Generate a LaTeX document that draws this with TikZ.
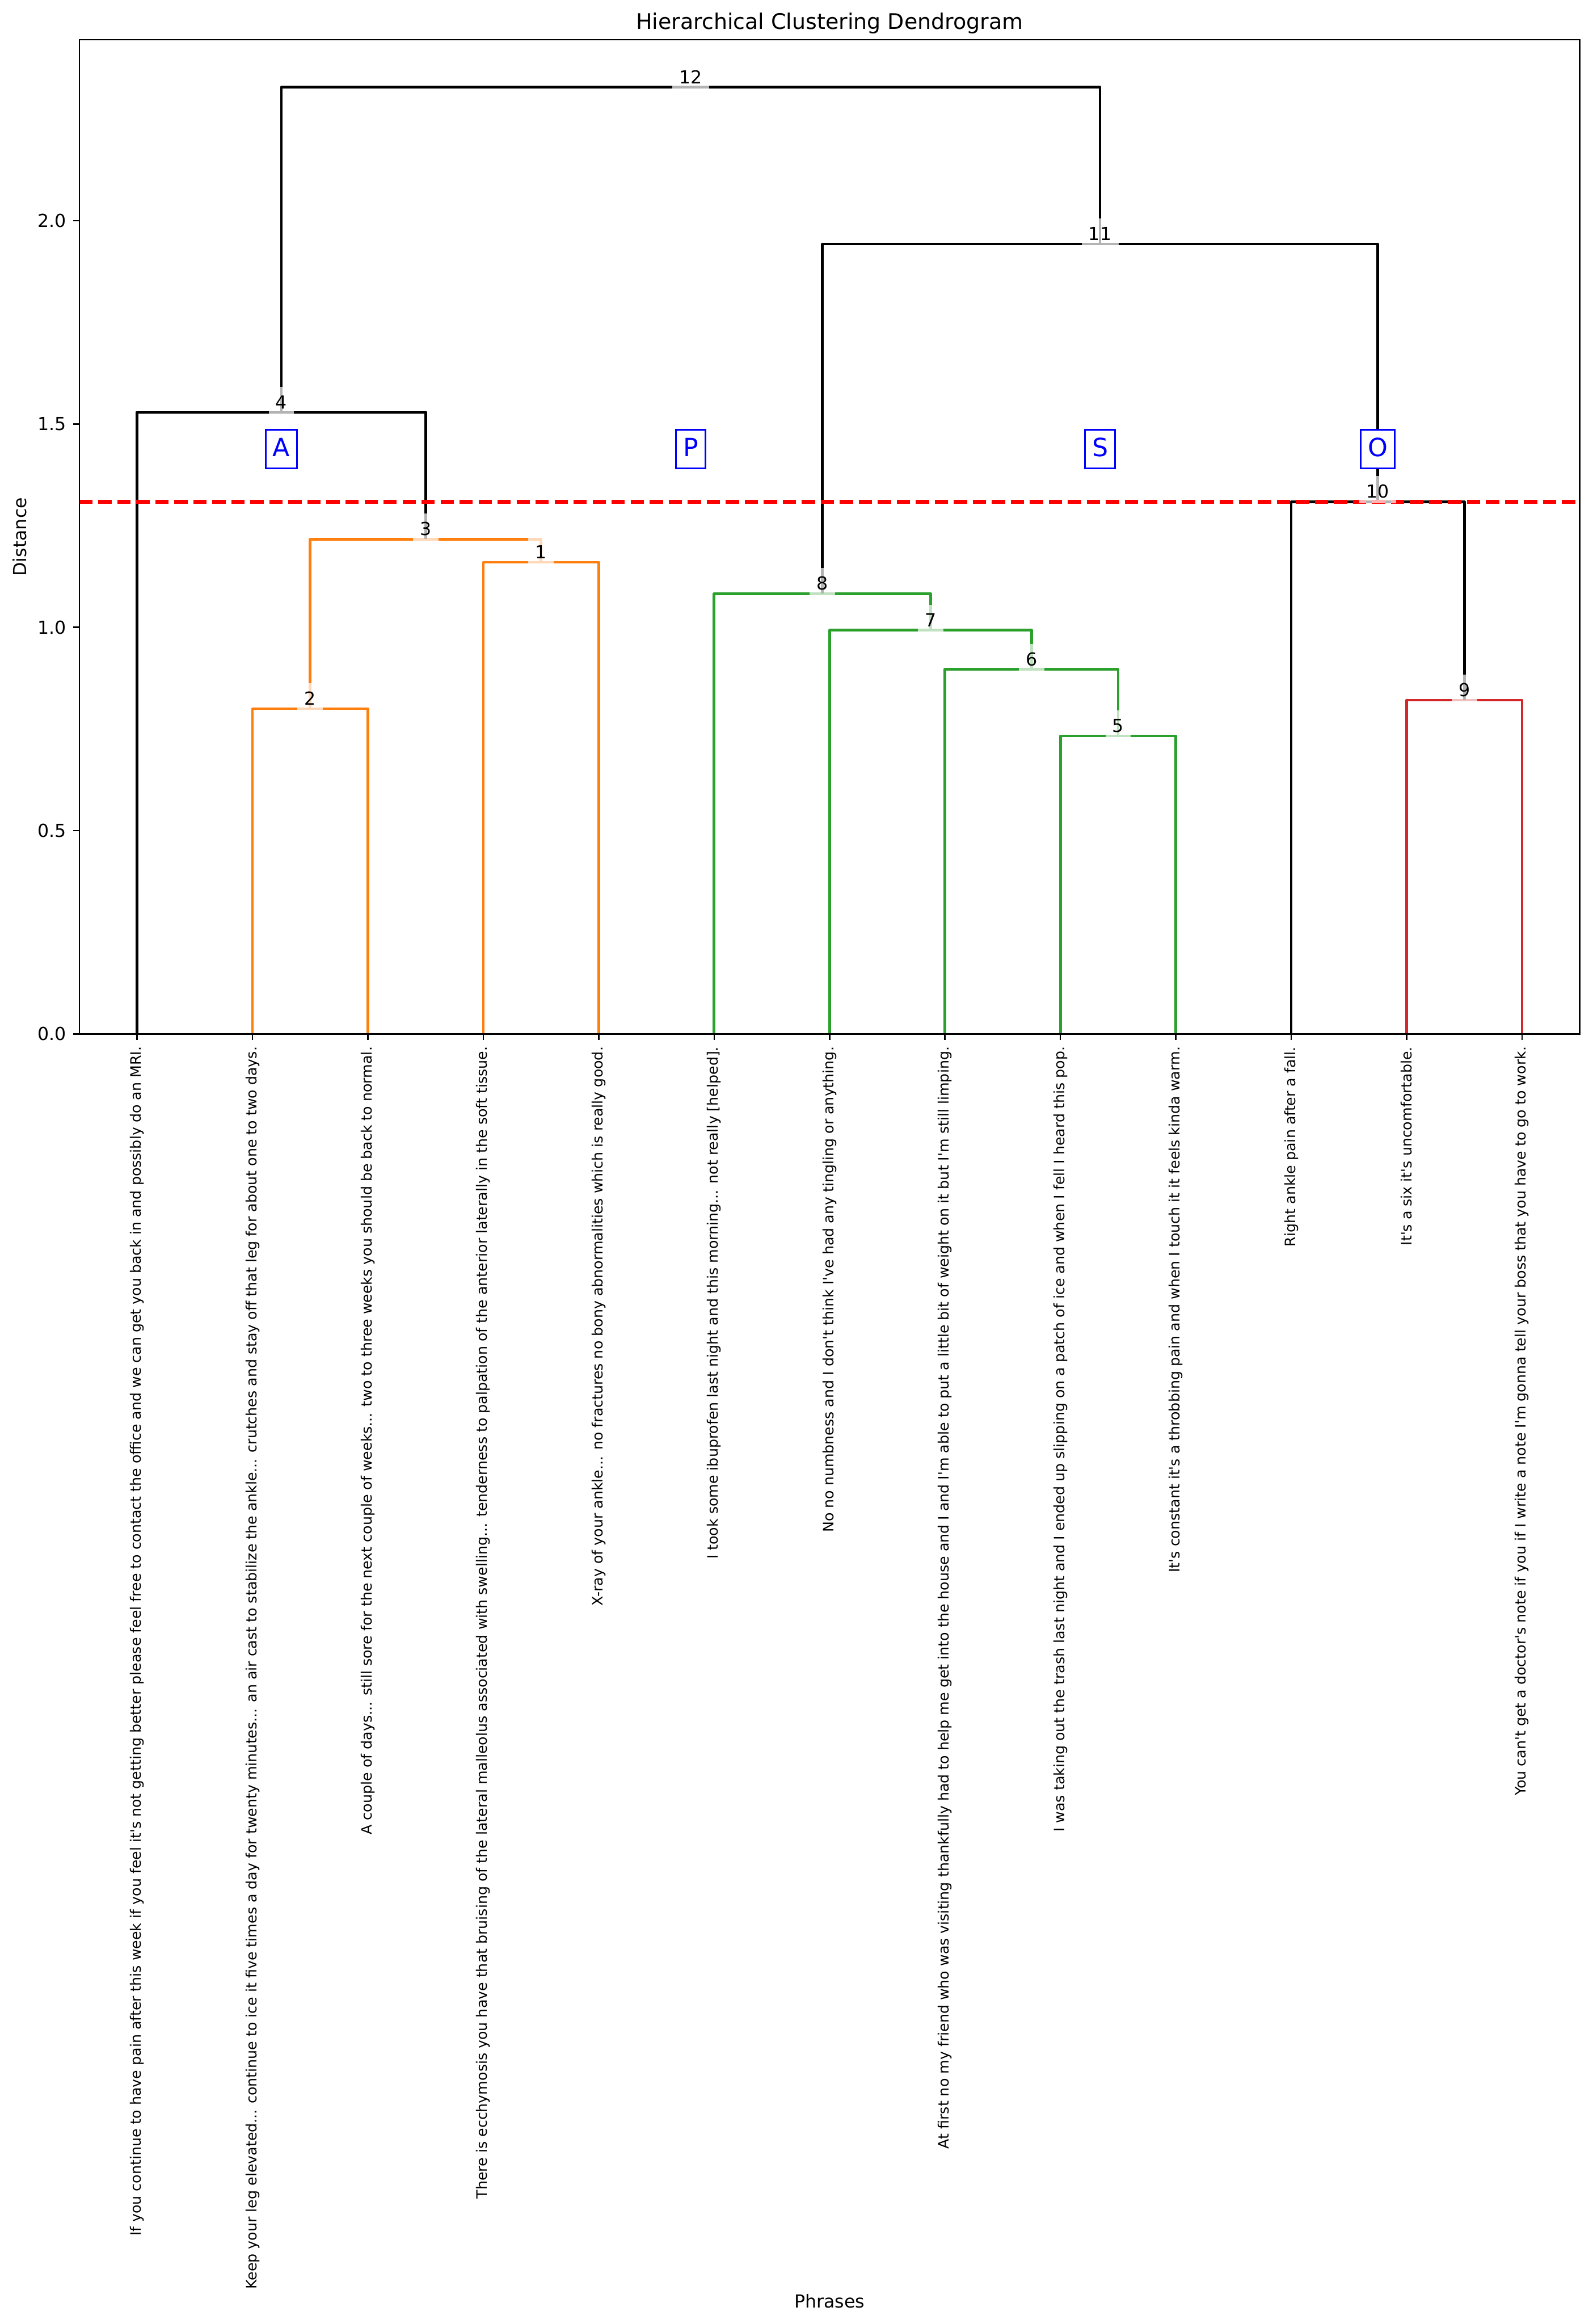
\documentclass[tikz,border=0pt]{standalone}
\usepackage{fontspec}
\setmainfont{DejaVu Sans}
\newfontfamily\dgfont{DejaVu Sans}
\definecolor{dgorange}{HTML}{FF7F0E}
\definecolor{dggreen}{HTML}{2CA02C}
\definecolor{dgred}{HTML}{D62728}
\definecolor{dgcut}{HTML}{FF0000}
\definecolor{dgblue}{HTML}{0000FF}
\tikzset{
  lnk/.style={line width=1.5pt, line join=round},
  spine/.style={line width=0.8pt},
  tck/.style={inner sep=0pt, font={\dgfont\fontsize{10}{12}\selectfont}},
  leaf/.style={rotate=90, anchor=east, inner sep=0pt, font={\dgfont\fontsize{8}{9.6}\selectfont}},
  num/.style={anchor=base, yshift=2pt, fill=white, fill opacity=0.7, text opacity=1, inner xsep=3.9pt, inner ysep=0pt, text height=12.2pt, text depth=3pt, font={\dgfont\fontsize{10}{12}\selectfont}},
  tag/.style={anchor=base, draw=dgblue, line width=1pt, fill=white, text=dgblue, inner xsep=3.9pt, inner ysep=0pt, text height=14.9pt, text depth=6.7pt, font={\dgfont\fontsize{14}{16.8}\selectfont}},
  cutline/.style={dgcut, line width=2pt, dash pattern=on 7.4pt off 3.2pt},
}
\begin{document}
\begin{tikzpicture}[x=6.436pt, y=226.7pt]
  \useasboundingbox (-44.26pt,-719.3pt) rectangle (843.98pt,576.5pt);
  \foreach \i in {1,...,13} \coordinate (leaf\i) at ({10*\i-5},0);
  \foreach \n/\x/\h in {1/40/1.160, 2/20/0.800, 3/30/1.217, 4/17.5/1.529, 5/90/0.733, 6/82.5/0.897, 7/73.75/0.993, 8/64.375/1.083, 9/120/0.821, 10/112.5/1.309, 11/88.4375/1.943, 12/52.96875/2.329}
    \coordinate (n\n) at (\x,\h);
  \draw[lnk, dgorange] (leaf4) |- (n1) -| (leaf5);
  \draw[lnk, dgorange] (leaf2) |- (n2) -| (leaf3);
  \draw[lnk, dgorange] (n2) |- (n3) -| (n1);
  \draw[lnk] (leaf1) |- (n4) -| (n3);
  \draw[lnk, dggreen] (leaf9) |- (n5) -| (leaf10);
  \draw[lnk, dggreen] (leaf8) |- (n6) -| (n5);
  \draw[lnk, dggreen] (leaf7) |- (n7) -| (n6);
  \draw[lnk, dggreen] (leaf6) |- (n8) -| (n7);
  \draw[lnk, dgred] (leaf12) |- (n9) -| (leaf13);
  \draw[lnk] (leaf11) |- (n10) -| (n9);
  \draw[lnk] (n8) |- (n11) -| (n10);
  \draw[lnk] (n4) |- (n12) -| (n11);
  \coordinate (cutL) at (0,1.3085);
  \coordinate (cutR) at (130,1.3085);
  \draw[cutline] (cutL) -- (cutR);
  \coordinate (fr0) at (0,0);
  \coordinate (fr1) at (130,2.445);
  \draw[spine] (fr0) rectangle (fr1);
  \foreach \v/\t [count=\k] in {0/0.0, 0.5/0.5, 1/1.0, 1.5/1.5, 2/2.0}
    \draw[spine] (0,\v) -- ++(-3.5pt,0) node[tck, anchor=east, xshift=-3.5pt] (ytick\k) {\t};
  \foreach \i/\txt in {1/{If you continue to have pain after this week if you feel it's not getting better please feel free to contact the office and we can get you back in and possibly do an MRI.},
      2/{Keep your leg elevated... continue to ice it five times a day for twenty minutes... an air cast to stabilize the ankle... crutches and stay off that leg for about one to two days.},
      3/{A couple of days... still sore for the next couple of weeks... two to three weeks you should be back to normal.},
      4/{There is ecchymosis you have that bruising of the lateral malleolus associated with swelling... tenderness to palpation of the anterior laterally in the soft tissue.},
      5/{X-ray of your ankle... no fractures no bony abnormalities which is really good.},
      6/{I took some ibuprofen last night and this morning... not really [helped].},
      7/{No no numbness and I don't think I've had any tingling or anything.},
      8/{At first no my friend who was visiting thankfully had to help me get into the house and I and I'm able to put a little bit of weight on it but I'm still limping.},
      9/{I was taking out the trash last night and I ended up slipping on a patch of ice and when I fell I heard this pop.},
      10/{It's constant it's a throbbing pain and when I touch it it feels kinda warm.},
      11/{Right ankle pain after a fall.},
      12/{It's a six it's uncomfortable.},
      13/{You can't get a doctor's note if you if I write a note I'm gonna tell your boss that you have to go to work.}} {
    \draw[spine] (leaf\i) -- ++(0,-3.5pt);
    \node[leaf] (lab\i) at ([yshift=-7pt]leaf\i) {\txt};
  }
  \foreach \n in {1,...,12} \node[num] (lbl\n) at (n\n) {\n};
  \foreach \t/\x in {A/17.5, P/52.96875, S/88.4375, O/112.5}
    \node[tag] (tag\t) at (\x,1.4207) {\t};
  \node[anchor=base, font={\dgfont\fontsize{12}{14.4}\selectfont}] (title) at ([yshift=6pt]fr1 -| 65,0) {Hierarchical Clustering Dendrogram};
  \node[rotate=90, anchor=base, font={\dgfont\fontsize{10}{12}\selectfont}] (ylab) at ([xshift=-29.5pt]0,1.2225) {Distance};
  \node[anchor=base, font={\dgfont\fontsize{10}{12}\selectfont}] (xlab) at ([yshift=-710.2pt]65,0) {Phrases};
\end{tikzpicture}
\end{document}
